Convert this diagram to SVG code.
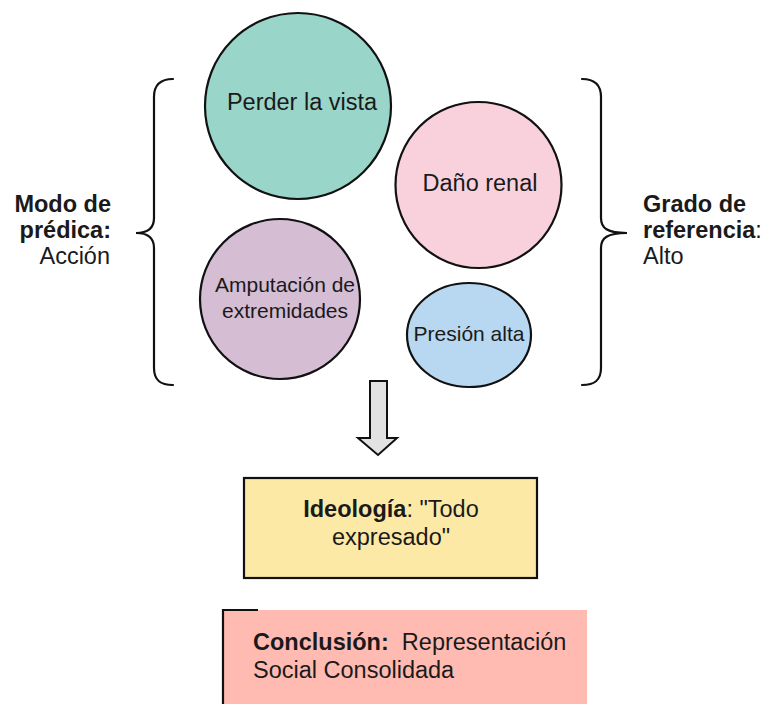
<svg xmlns="http://www.w3.org/2000/svg" width="764" height="704" viewBox="0 0 764 704">
  <style>
    text { font-family: "Liberation Sans", Arial, sans-serif; fill: #1a1a1a; }
    .b { font-weight: bold; }
    .node { stroke: #111; stroke-width: 2.2; }
    .brace { fill: none; stroke: #111; stroke-width: 2.2; stroke-linecap: round; }
  </style>
  <rect width="764" height="704" fill="#ffffff"/>

  <!-- left brace and label -->
  <g id="left-label">
    <path class="brace" d="M173,79 C160,79 154,85 154,97 L154,218 C154,228 148,233 136,233 C148,233 154,238 154,248 L154,368 C154,380 160,385 173,385"/>
    <text x="111" y="212" font-size="23.5" text-anchor="end" class="b">Modo de</text>
    <text x="111" y="238" font-size="23.5" text-anchor="end" class="b">prédica:</text>
    <text x="110" y="264" font-size="23.5" text-anchor="end">Acción</text>
  </g>

  <!-- right brace and label -->
  <g id="right-label">
    <path class="brace" d="M582,79 C595,79 601,85 601,97 L601,218 C601,228 607,233 627,233 C607,233 601,238 601,248 L601,368 C601,380 595,385 582,385"/>
    <text x="643" y="212" font-size="23.5"><tspan class="b">Grado de</tspan></text>
    <text x="643" y="238" font-size="23.5"><tspan class="b">referencia</tspan>:</text>
    <text x="643" y="264" font-size="23.5">Alto</text>
  </g>

  <g id="perder-vista">
    <circle class="node" cx="298" cy="106" r="93" fill="#9ad5c9"/>
    <text x="302" y="110" font-size="23.5" text-anchor="middle">Perder la vista</text>
  </g>

  <g id="dano-renal">
    <circle class="node" cx="478.5" cy="185" r="83" fill="#f9d1dc"/>
    <text x="480" y="191" font-size="23.5" text-anchor="middle">Daño renal</text>
  </g>

  <g id="amputacion">
    <circle class="node" cx="280" cy="299" r="80" fill="#d5bdd4"/>
    <text x="285" y="292" font-size="21" text-anchor="middle">Amputación de</text>
    <text x="285" y="318" font-size="21" text-anchor="middle">extremidades</text>
  </g>

  <g id="presion-alta">
    <ellipse class="node" cx="469" cy="335" rx="62" ry="52" fill="#b8d7f0"/>
    <text x="469" y="341" font-size="21" text-anchor="middle">Presión alta</text>
  </g>

  <!-- connector -->
  <g id="connectors">
    <path d="M370,381 L387,381 L387,438 L397,438 L378,455 L358,438 L370,438 Z" fill="#e2e2e2" stroke="#111" stroke-width="2" stroke-linejoin="miter"/>
  </g>

  <g id="ideologia">
    <rect x="244" y="478" width="293" height="100" fill="#fde9a6" stroke="#111" stroke-width="2.2"/>
    <text x="391" y="517" font-size="23.5" text-anchor="middle"><tspan class="b">Ideología</tspan>: "Todo</text>
    <text x="391" y="545" font-size="23.5" text-anchor="middle">expresado"</text>
  </g>

  <g id="conclusion">
    <rect x="223" y="610" width="364" height="94" fill="#ffbbb2"/>
    <path d="M223,704 L223,610 L258,610" fill="none" stroke="#111" stroke-width="2.2"/>
    <text x="253" y="650" font-size="23.5" xml:space="preserve"><tspan class="b">Conclusión:</tspan>  Representación</text>
    <text x="253" y="678" font-size="23.5">Social Consolidada</text>
  </g>
</svg>
